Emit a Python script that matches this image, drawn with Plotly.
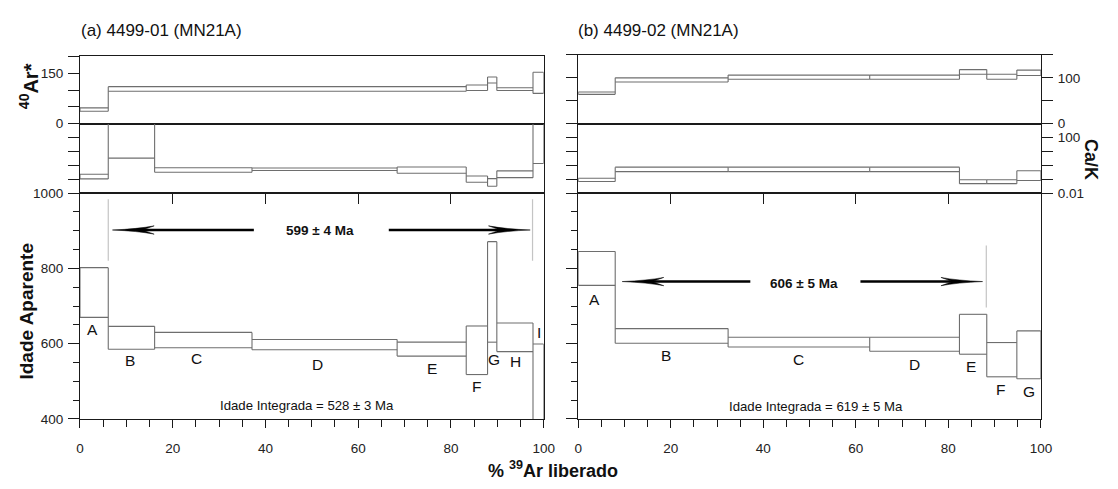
import plotly.graph_objects as go

# ---------------- data ----------------
# (a) 4499-01 (MN21A) : cumulative % 39Ar at step boundaries
a_edges = [0, 6.1, 16.1, 37.1, 68.4, 83.3, 87.9, 89.9, 97.7, 100]
a_steps = ["A", "B", "C", "D", "E", "F", "G", "H", "I"]
a_age_lo = [670, 585, 589, 584, 567, 518, 604, 579, 350]
a_age_hi = [802, 646, 630, 611, 604, 647, 871, 655, 599]
a_cak_lo = [0.105, 3.3, 0.32, 0.42, 0.27, 0.061, 0.031, 0.13, 1.35]
a_cak_hi = [0.23, 3000, 0.67, 0.64, 0.75, 0.17, 0.11, 0.40, 3000]
# 40Ar* (steps B-E share one block)
a_ar_edges = [0, 6.1, 83.3, 87.9, 89.9, 97.7, 100]
a_ar_lo = [37, 96.5, 98.6, 121, 98.6, 90]
a_ar_hi = [47, 110, 115, 139, 107, 153]
a_plateau = "599 ± 4 Ma"
a_integrated = "Idade Integrada = 528 ± 3 Ma"
a_plateau_marks = [6.1, 97.6]

# (b) 4499-02 (MN21A)
b_edges = [0, 8.0, 32.4, 63.0, 82.4, 88.3, 94.8, 100]
b_steps = ["A", "B", "C", "D", "E", "F", "G"]
b_age_lo = [755, 601, 591, 580, 572, 512, 507]
b_age_hi = [845, 640, 617, 617, 678, 603, 634]
b_cak_lo = [0.069, 0.35, 0.35, 0.35, 0.048, 0.048, 0.081]
b_cak_hi = [0.117, 0.74, 0.74, 0.74, 0.091, 0.091, 0.41]
b_ar_edges = b_edges
b_ar_lo = [64, 91, 97, 97, 108, 97, 105]
b_ar_hi = [69, 100, 106, 106, 118, 108, 117]
b_plateau = "606 ± 5 Ma"
b_integrated = "Idade Integrada = 619 ± 5 Ma"
b_plateau_marks = [88.2]

# ---------------- styling ----------------
W, H = 1118, 489
SANS = "Liberation Sans, Arial, Helvetica, sans-serif"
INK = "#1a1a1a"
BOX = "#6e6e6e"


def px_x(p):
    return p / W


def px_y(p):
    return 1 - p / H


XA = [px_x(77), px_x(547)]
XB = [px_x(582), px_x(1051)]
Y_AGE = [px_y(425), px_y(192)]
Y_CAK = [px_y(192), px_y(120.3)]
Y_AR_A = [px_y(120.3), px_y(51)]
Y_AR_B = [px_y(120.3), px_y(49.5)]


def outline(edges, lo, hi):
    """Step boxes: top/bottom of every step plus joining verticals."""
    xs, ys = [], []
    n = len(lo)
    for i in range(n):
        x0, x1 = edges[i], edges[i + 1]
        xs += [x0, x1, None, x0, x1, None]
        ys += [hi[i], hi[i], None, lo[i], lo[i], None]
    for j in range(n + 1):
        nb = [k for k in (j - 1, j) if 0 <= k < n]
        xs += [edges[j], edges[j], None]
        ys += [min(lo[k] for k in nb), max(hi[k] for k in nb), None]
    return xs, ys


fig = go.Figure()


def add_box(edges, lo, hi, xa, ya):
    xs, ys = outline(edges, lo, hi)
    fig.add_trace(go.Scatter(x=xs, y=ys, mode="lines", xaxis=xa, yaxis=ya,
                             line=dict(color=BOX, width=1.1),
                             hoverinfo="skip", showlegend=False))


def add_dummy(xa, ya):
    fig.add_trace(go.Scatter(x=[None], y=[None], xaxis=xa, yaxis=ya,
                             showlegend=False, hoverinfo="skip"))


# panel (a)
add_box(a_ar_edges, a_ar_lo, a_ar_hi, "x", "y")
add_box(a_edges, a_cak_lo, a_cak_hi, "x2", "y2")
add_box(a_edges, a_age_lo, a_age_hi, "x3", "y3")
# panel (b)
add_box(b_ar_edges, b_ar_lo, b_ar_hi, "x4", "y4")
add_box(b_edges, b_cak_lo, b_cak_hi, "x5", "y5")
add_box(b_edges, b_age_lo, b_age_hi, "x6", "y6")
# overlay axes carrying extra tick sets
add_dummy("x7", "y3")
add_dummy("x8", "y6")
add_dummy("x4", "y9")
add_dummy("x5", "y10")

tickfont = dict(family=SANS, size=13.5, color="#222")
frame = dict(showline=True, linecolor=INK, linewidth=1.2, mirror=True,
             showgrid=False, zeroline=False, tickcolor=INK, tickwidth=1,
             tickfont=tickfont)


def xhidden(dom, anchor):
    return dict(frame, domain=dom, anchor=anchor, range=[0, 100],
                showticklabels=False, ticks="")


def xbottom(dom, anchor):
    return dict(frame, domain=dom, anchor=anchor, range=[0, 100],
                tickmode="linear", tick0=0, dtick=20, ticks="outside",
                ticklen=8, ticklabelstandoff=9,
                minor=dict(ticks="outside", dtick=5, ticklen=7,
                           tickcolor=INK, showgrid=False))


def xtop_inner(over, anchor):
    return dict(overlaying=over, anchor=anchor, side="top", range=[0, 100],
                tickmode="array", tickvals=[20, 40, 60, 80], ticks="inside",
                ticklen=11, tickcolor=INK, showticklabels=False,
                showline=False, showgrid=False, zeroline=False)


def y_lin(dom, anchor, rng, labelled, unlabelled, side="left"):
    return dict(frame, domain=dom, anchor=anchor, range=rng, side=side,
                tickmode="array", tickvals=labelled, ticks="outside",
                ticklen=11, ticklabelstandoff=2,
                minor=dict(tickmode="array", tickvals=unlabelled,
                           ticks="outside", ticklen=11, tickcolor=INK,
                           showgrid=False))


def y_log(dom, anchor, labelled, unlabelled, side="left"):
    d = dict(frame, domain=dom, anchor=anchor, type="log", range=[-2, 3],
             side=side, ticks="outside", ticklen=11, ticklabelstandoff=2,
             minor=dict(tickmode="array", tickvals=unlabelled,
                        ticks="outside", ticklen=11, tickcolor=INK,
                        showgrid=False))
    if labelled:
        d.update(tickmode="array", tickvals=labelled,
                 ticktext=[f"{v:g}" for v in labelled])
    else:
        d.update(tickmode="array", tickvals=unlabelled, showticklabels=False)
    return d


def y_age(dom, anchor, labels):
    return dict(frame, domain=dom, anchor=anchor, range=[400, 1000],
                tickmode="linear", tick0=400, dtick=200, ticks="outside",
                ticklen=11, showticklabels=labels, ticklabelstandoff=2,
                minor=dict(ticks="outside", dtick=50, ticklen=6,
                           tickcolor=INK, showgrid=False))


def y_ticks_only(over, anchor, rng, vals, log=False):
    d = dict(overlaying=over, anchor=anchor, side="left", range=rng,
             tickmode="array", tickvals=vals, ticks="outside", ticklen=11,
             tickcolor=INK, showticklabels=False, showline=False,
             showgrid=False, zeroline=False)
    if log:
        d["type"] = "log"
    return d


cak_ticks = [0.01, 0.1, 1, 10, 100]
fig.update_layout(
    width=W, height=H, margin=dict(l=0, r=0, t=0, b=0),
    paper_bgcolor="white", plot_bgcolor="white", showlegend=False,
    xaxis=xhidden(XA, "y"),
    yaxis=y_lin(Y_AR_A, "x", [0, 200], [0, 150], [50, 100, 200]),
    xaxis2=xhidden(XA, "y2"),
    yaxis2=y_log(Y_CAK, "x2", None, cak_ticks),
    xaxis3=xbottom(XA, "y3"),
    yaxis3=y_age(Y_AGE, "x3", True),
    xaxis4=xhidden(XB, "y4"),
    yaxis4=y_lin(Y_AR_B, "x4", [0, 150], [0, 100], [50, 150], side="right"),
    xaxis5=xhidden(XB, "y5"),
    yaxis5=y_log(Y_CAK, "x5", [0.01, 100], [0.1, 1, 10], side="right"),
    xaxis6=xbottom(XB, "y6"),
    yaxis6=y_age(Y_AGE, "x6", False),
    xaxis7=xtop_inner("x3", "y3"),
    xaxis8=xtop_inner("x6", "y6"),
    yaxis9=y_ticks_only("y4", "x4", [0, 150], [0, 50, 100, 150]),
    yaxis10=y_ticks_only("y5", "x5", [-2, 3], cak_ticks, log=True),
)

# ---------------- annotations ----------------
ann = []


def txt(x, y, s, xref, yref, size=14, bold=False, angle=0, xanchor="center"):
    ann.append(dict(x=x, y=y, xref=xref, yref=yref,
                    text=f"<b>{s}</b>" if bold else s,
                    showarrow=False, textangle=angle, xanchor=xanchor,
                    yanchor="middle",
                    font=dict(family=SANS, size=size, color="#111")))


# panel titles
txt(px_x(76), px_y(24), "(a) 4499-01 (MN21A)", "paper", "paper", size=17,
    xanchor="left")
txt(px_x(580), px_y(24), "(b) 4499-02 (MN21A)", "paper", "paper", size=17,
    xanchor="left")
# axis titles
txt(px_x(25), px_y(82), "<sup>40</sup>Ar*", "paper", "paper", size=20,
    bold=True, angle=-90)
txt(px_x(22.5), px_y(314), "Idade Aparente", "paper", "paper", size=19,
    bold=True, angle=-90)
txt(px_x(1102), px_y(157), "Ca/K", "paper", "paper", size=18, bold=True,
    angle=90)
txt(px_x(556.7), px_y(477), "% <sup>39</sup>Ar liberado", "paper", "paper",
    size=18, bold=True)

# step letters
a_label_pos = [(2.8, 638), (10.8, 554), (25.1, 560), (51.3, 546), (76, 535),
               (85.6, 486), (89.3, 557), (93.9, 553), (98.9, 630)]
b_label_pos = [(3.6, 717), (19, 569), (47.7, 557), (72.6, 544), (85, 540),
               (91.3, 477), (97.4, 473)]
for s, (x, y) in zip(a_steps, a_label_pos):
    txt(x, y, s, "x3", "y3", size=15.5)
for s, (x, y) in zip(b_steps, b_label_pos):
    txt(x, y, s, "x6", "y6", size=15.5)

# integrated ages and plateau ages
txt(49.0, 437, a_integrated, "x3", "y3", size=13.2)
txt(51.3, 432, b_integrated, "x6", "y6", size=13.2)
txt(51.7, 902, a_plateau, "x3", "y3", size=13.5, bold=True)
txt(48.9, 759, b_plateau, "x6", "y6", size=13.5, bold=True)

fig.update_layout(annotations=ann)

# ---------------- plateau arrows and markers ----------------
shapes = []


def arrow(xref, yref, tail, tip, y, L=9.0, h=11.0):
    d = 1 if tail > tip else -1
    shapes.append(dict(type="line", xref=xref, yref=yref,
                       x0=tail, x1=tip + d * 0.7 * L, y0=y, y1=y,
                       line=dict(color="black", width=2.6)))
    path = (f"M {tip},{y} Q {tip + d * 0.6 * L},{y + 0.25 * h} {tip + d * L},{y + h} "
            f"L {tip + d * 0.72 * L},{y} L {tip + d * L},{y - h} "
            f"Q {tip + d * 0.6 * L},{y - 0.25 * h} {tip},{y} Z")
    shapes.append(dict(type="path", xref=xref, yref=yref, path=path,
                       fillcolor="black", line=dict(color="black", width=0.5)))


arrow("x3", "y3", 37.5, 7.0, 902)
arrow("x3", "y3", 66.6, 97.1, 902)
arrow("x6", "y6", 37.2, 9.5, 765)
arrow("x6", "y6", 61.0, 87.4, 765)

for xm in a_plateau_marks:
    shapes.append(dict(type="line", xref="x3", yref="y3", x0=xm, x1=xm,
                       y0=820, y1=984, line=dict(color="#c4c4c4", width=1.2)))
for xm in b_plateau_marks:
    shapes.append(dict(type="line", xref="x6", yref="y6", x0=xm, x1=xm,
                       y0=696, y1=861, line=dict(color="#c4c4c4", width=1.2)))

fig.update_layout(shapes=shapes)

fig.write_html("out.html")
